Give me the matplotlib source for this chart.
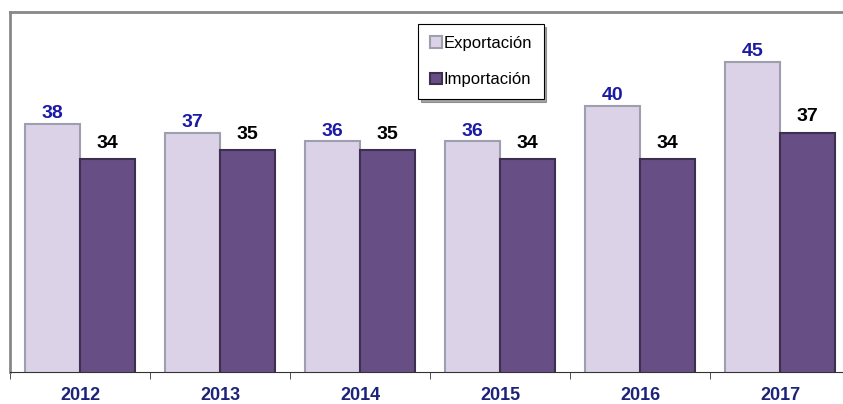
import matplotlib
matplotlib.use('Agg')
import numpy as np
import matplotlib.pyplot as plt

years = ['2012', '2013', '2014', '2015', '2016', '2017']
exportacion = [38, 37, 36, 36, 40, 45]
importacion = [34, 35, 35, 34, 34, 37]

plt.rcParams['font.family'] = ['Liberation Sans Narrow', 'Liberation Sans', 'DejaVu Sans']

fig = plt.figure(figsize=(8.43, 4.04), dpi=100)
ax = fig.add_axes([10 / 843, 32 / 404, 840 / 843, 360 / 404])

x = np.arange(len(years))
w = 0.393
ax.bar(x - w / 2, exportacion, w, color='#dcd2e8', edgecolor='#9d9fae',
       linewidth=1.5, label='Exportación', zorder=2)
ax.bar(x + w / 2, importacion, w, color='#674f86', edgecolor='#3d2f50',
       linewidth=1.5, label='Importación', zorder=2)

for i in range(len(years)):
    ax.text(x[i] - w / 2, exportacion[i] + 0.2, str(exportacion[i]), ha='center',
            va='bottom', fontsize=14, fontweight='bold', color='#1a1aa6')
    ax.text(x[i] + w / 2, importacion[i] + 0.8, str(importacion[i]), ha='center',
            va='bottom', fontsize=14, fontweight='bold', color='black')

ax.set_xlim(-0.5, len(years) - 0.5)
ax.set_ylim(10, 50.6)
ax.set_yticks([])
ax.set_xticks(np.arange(len(years) + 1) - 0.5, minor=True)
ax.set_xticks(x)
ax.set_xticklabels(years, fontsize=13, fontweight='bold', color='#1b237a')
ax.tick_params(axis='x', which='major', length=0, pad=11)
ax.tick_params(axis='x', which='minor', length=5, direction='out', color='#333333')

for s in ['top', 'left', 'right']:
    ax.spines[s].set_color('#888888')
    ax.spines[s].set_linewidth(2)
ax.spines['bottom'].set_color('#333333')

leg = ax.legend(loc='upper left', bbox_to_anchor=(400 / 840, 0.99), fontsize=12,
                frameon=True, fancybox=False, shadow=True, handlelength=0.7,
                handleheight=0.7, handletextpad=0.1, labelspacing=1.3,
                borderpad=0.7)
leg.get_frame().set_edgecolor('black')
leg.get_frame().set_linewidth(0.8)

plt.savefig('out.png', dpi=100)
